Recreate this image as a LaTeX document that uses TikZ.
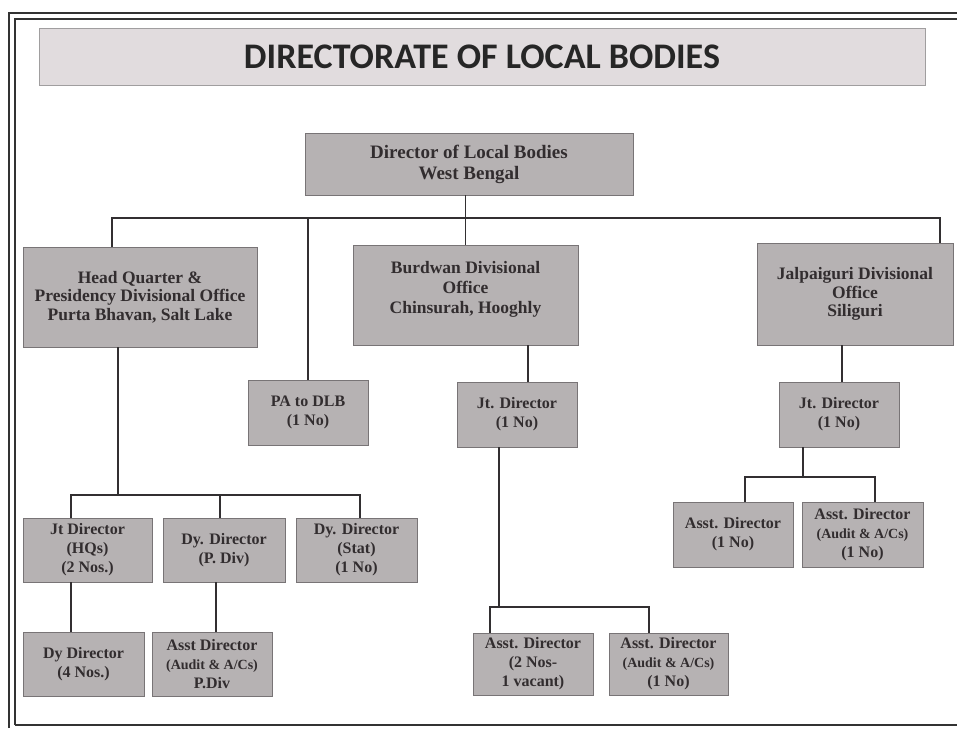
\documentclass[tikz,border=0pt]{standalone}
\usepackage{fontspec}
\usetikzlibrary{shadows}
\setmainfont{Liberation Serif}
\newfontfamily\titlefont{Carlito}
\definecolor{boxfill}{RGB}{182,178,179}
\definecolor{boxedge}{RGB}{120,116,118}
\definecolor{titlefill}{RGB}{225,220,222}
\definecolor{txt}{RGB}{50,45,47}
\definecolor{linec}{RGB}{50,47,49}
\newcommand{\auditline}{{\fontsize{14}{16}\selectfont(Audit \& A/Cs)}}
\tikzset{
  box/.style={draw=boxedge, line width=0.8pt, fill=boxfill, inner sep=2pt, align=center,
    text=txt, font=\bfseries\fontsize{16}{19}\selectfont,
    drop shadow={shadow xshift=0.8pt, shadow yshift=-1.4pt, fill=black!55, opacity=0.6}},
  bigbox/.style={box, font=\bfseries\fontsize{17.5}{18.5}\selectfont},
  conn/.style={draw=linec, line width=1.7pt},
  frameline/.style={draw=black!80, line width=1.6pt}
}
\begin{document}
\begin{tikzpicture}[x=1pt,y=-1pt]
\useasboundingbox (0,0) rectangle (957,728);
% frame
\draw[frameline] (9,728) -- (9,13) -- (957,13);
\draw[frameline, line width=1.1pt] (15,725) -- (15,19) -- (957,19);
\draw[frameline, line width=1.1pt] (15,725) -- (957,725);
% title
\node[draw=boxedge!70, line width=0.6pt, fill=titlefill, minimum width=886pt, minimum height=57pt,
  text=black!85, font=\titlefont\bfseries\fontsize{36}{40}\selectfont] (title) at (482,56.5) {DIRECTORATE OF LOCAL BODIES};
% level 1
\node[box, font=\bfseries\fontsize{19}{21}\selectfont, minimum width=328pt, minimum height=62pt] (dlb) at (469,164) {Director of Local Bodies\\West Bengal};
% level 2
\node[bigbox, minimum width=234pt, minimum height=100pt] (hq) at (140,297) {Head Quarter \&\\Presidency Divisional Office\\Purta Bhavan, Salt Lake};
\node[bigbox, font=\bfseries\fontsize{17.5}{20}\selectfont, minimum width=225pt, minimum height=100pt] (bur) at (465.5,295) {Burdwan Divisional\\Office\\Chinsurah, Hooghly\\[-4pt]};
\node[bigbox, minimum width=196pt, minimum height=102pt] (jal) at (855,294) {Jalpaiguri Divisional\\Office\\Siliguri};
\node[box, minimum width=120pt, minimum height=65pt] (pa) at (308,412.5) {PA to DLB\\(1 No)};
\node[box, minimum width=120pt, minimum height=65pt] (bjt) at (517,414.5) {Jt. Director\\(1 No)};
\node[box, minimum width=120pt, minimum height=65pt] (jjt) at (839,414.5) {Jt. Director\\(1 No)};
% HQ subtree
\node[box, minimum width=129pt, minimum height=64pt] (hjt) at (87.5,550) {Jt Director\\(HQs)\\(2 Nos.)};
\node[box, minimum width=122pt, minimum height=64pt] (hdy) at (224,550) {Dy. Director\\(P. Div)};
\node[box, minimum width=121pt, minimum height=64pt] (hst) at (356.5,550) {Dy. Director\\(Stat)\\(1 No)};
\node[box, minimum width=121pt, minimum height=64pt] (hdd) at (83.5,664) {Dy Director\\(4 Nos.)};
\node[box, minimum width=120pt, minimum height=64pt] (had) at (212,664) {Asst Director\\\auditline\\P.Div};
% Burdwan subtree
\node[box, minimum width=120pt, minimum height=62pt] (ba1) at (533,664) {Asst. Director\\(2 Nos-\\1 vacant)};
\node[box, minimum width=119pt, minimum height=62pt] (ba2) at (668.5,664) {Asst. Director\\\auditline\\(1 No)};
% Jalpaiguri subtree
\node[box, minimum width=120pt, minimum height=65pt] (ja1) at (733,534.5) {Asst. Director\\(1 No)};
\node[box, minimum width=121pt, minimum height=65pt] (ja2) at (862.5,534.5) {Asst. Director\\\auditline\\(1 No)};
% connectors level 1
\coordinate (b1) at (0,218);
\draw[conn] (bur.north) -- (bur.north |- dlb.south);
\draw[conn] ([xshift=-28pt]hq.north) -- ([xshift=-28pt]hq.north |- b1) -- ([xshift=85pt]jal.north |- b1) -- ([xshift=85pt]jal.north);
\draw[conn] (pa.north) -- (pa.north |- b1);
% HQ subtree connectors
\coordinate (h1) at (118,495);
\draw[conn] (hq.south -| h1) -- (h1);
\draw[conn] ([xshift=-16.5pt]hjt.north) -- ([xshift=-16.5pt]hjt.north |- h1) -- ([xshift=3.5pt]hst.north |- h1) -- ([xshift=3.5pt]hst.north);
\draw[conn] ([xshift=-4pt]hdy.north) -- ([xshift=-4pt]hdy.north |- h1);
\draw[conn] ([xshift=-12.5pt]hdd.north) -- ([xshift=-12.5pt]hdd.north |- hjt.south);
\draw[conn] ([xshift=4pt]had.north) -- ([xshift=4pt]had.north |- hdy.south);
% Burdwan connectors
\draw[conn] ([xshift=11pt]bjt.north) -- ([xshift=11pt]bjt.north |- bur.south);
\coordinate (m1) at (499,607);
\draw[conn] (bjt.south -| m1) -- (m1);
\draw[conn] ([xshift=-43pt]ba1.north) -- ([xshift=-43pt]ba1.north |- m1) -- ([xshift=-19.5pt]ba2.north |- m1) -- ([xshift=-19.5pt]ba2.north);
% Jalpaiguri connectors
\draw[conn] ([xshift=3pt]jjt.north) -- ([xshift=3pt]jjt.north |- jal.south);
\coordinate (r1) at (803,477);
\draw[conn] (jjt.south -| r1) -- (r1);
\draw[conn] ([xshift=12pt]ja1.north) -- ([xshift=12pt]ja1.north |- r1) -- ([xshift=12.5pt]ja2.north |- r1) -- ([xshift=12.5pt]ja2.north);
\end{tikzpicture}
\end{document}
